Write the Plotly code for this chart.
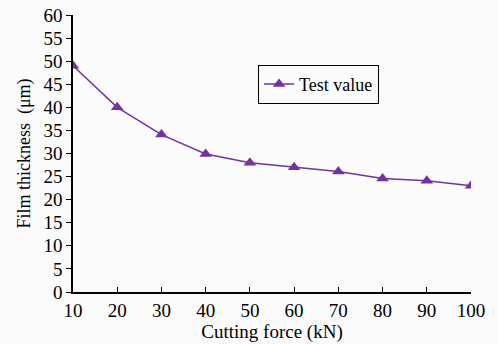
import plotly.graph_objects as go

cutting_force = [10, 20, 30, 40, 50, 60, 70, 80, 90, 100]
film_thickness = [49.0, 40.0, 34.1, 29.9, 28.0, 27.0, 26.1, 24.6, 24.1, 23.0]
series_name = "Test value"
x_ticks = [10, 20, 30, 40, 50, 60, 70, 80, 90, 100]
y_ticks = list(range(0, 61, 5))

purple = "#7232a0"
font = "Liberation Serif"

fig = go.Figure()
fig.add_trace(go.Scatter(
    x=cutting_force, y=film_thickness, mode="lines+markers", name=series_name,
    line=dict(color=purple, width=1.5),
    marker=dict(symbol="triangle-up", size=11, color=purple),
))

fig.update_layout(
    width=498, height=344,
    margin=dict(l=73, r=27, t=15, b=52, autoexpand=False),
    paper_bgcolor="#fbfbfb", plot_bgcolor="#fbfbfb",
    font=dict(family=font, size=19, color="black"),
    showlegend=True,
    legend=dict(x=0.465, y=0.82, xanchor="left", yanchor="top",
                bordercolor="black", borderwidth=1, bgcolor="#fbfbfb",
                font=dict(family=font, size=18)),
)
fig.update_xaxes(
    range=[10, 100], tickvals=x_ticks, ticks="inside", ticklen=5,
    tickfont=dict(size=19),
    showline=True, linecolor="black", linewidth=1.5, tickcolor="black",
    showgrid=False, zeroline=False, automargin=False,
    title=dict(text="Cutting force (kN)", standoff=2, font=dict(size=19)),
)
fig.update_yaxes(
    range=[0, 60], tickvals=y_ticks, ticks="outside", ticklen=5,
    tickfont=dict(size=19),
    showline=True, linecolor="black", linewidth=1.5, tickcolor="black",
    showgrid=False, zeroline=False, automargin=False,
    title=dict(text="Film thickness  (μm)", standoff=8, font=dict(size=18)),
)

fig.write_html("out.html", config={"displayModeBar": False},
               post_script="document.body.style.margin='0';")
